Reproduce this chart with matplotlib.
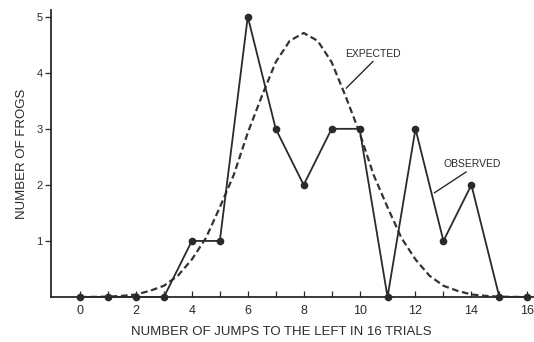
import matplotlib
matplotlib.use("Agg")
import matplotlib.pyplot as plt
from matplotlib.ticker import FixedLocator

# Observed counts per number of left jumps
obs_x = [0, 1, 2, 3, 4, 5, 6, 7, 8, 9, 10, 11, 12, 13, 14, 15, 16]
obs_y = [0, 0, 0, 0, 1, 1, 5, 3, 2, 3, 3, 0, 3, 1, 2, 0, 0]

# Expected curve
exp_x = [0, 0.5, 1, 1.5, 2, 2.5, 3, 3.5, 4, 4.5, 5, 5.5, 6, 6.5, 7, 7.5, 8,
         8.5, 9, 9.5, 10, 10.5, 11, 11.5, 12, 12.5, 13, 13.5, 14, 14.5, 15, 15.5, 16]
exp_y = [0.0, 0.002, 0.006, 0.02, 0.045, 0.11, 0.2, 0.38, 0.67, 1.05, 1.6, 2.18, 2.93, 3.58,
         4.19, 4.57, 4.71, 4.57, 4.19, 3.58, 2.93, 2.18, 1.6, 1.05, 0.67, 0.38, 0.2, 0.11,
         0.045, 0.02, 0.006, 0.002, 0.0]

xtick_labels = ["0", "2", "4", "6", "8", "10", "12", "14", "16"]
ytick_labels = ["1", "2", "3", "4", "5"]

plt.rcParams['font.family'] = ['Liberation Sans', 'DejaVu Sans']
ink = "#2a2a2a"

fig = plt.figure(figsize=(5.34, 3.42), dpi=100)
ax = fig.add_axes([0.0955, 0.1316, 0.9045, 0.8392])

ax.plot(exp_x, exp_y, linestyle=(0, (3.0, 1.6)), color="#333333", lw=1.6, zorder=2)
ax.plot(obs_x, obs_y, color=ink, lw=1.3, marker='o', markersize=4.5, zorder=3,
        clip_on=False)

ax.set_xlim(-1.04, 16.24)
ax.set_ylim(0, 5.12)

for s in ['top', 'right']:
    ax.spines[s].set_visible(False)
for s in ['left', 'bottom']:
    ax.spines[s].set_color(ink)
    ax.spines[s].set_linewidth(1.3)

ax.set_xticks(range(0, 17, 2))
ax.set_xticklabels(xtick_labels)
ax.xaxis.set_minor_locator(FixedLocator(range(1, 16, 2)))
ax.tick_params(axis='x', which='both', direction='in', length=4, width=0.9,
               color=ink, labelsize=9, labelcolor=ink, pad=6)
ax.set_yticks([1, 2, 3, 4, 5])
ax.set_yticklabels(ytick_labels)
ax.tick_params(axis='y', direction='out', length=4, width=0.9, color=ink,
               labelsize=8, labelcolor=ink, pad=2)

ax.set_xlabel("NUMBER OF JUMPS TO THE LEFT IN 16 TRIALS", fontsize=9.5, color=ink)
ax.xaxis.set_label_coords(0.476, -0.1)
ax.set_ylabel("NUMBER OF FROGS", fontsize=9.5, color=ink, labelpad=6)

ax.text(10.48, 4.34, "EXPECTED", fontsize=7.5, color=ink, ha='center', va='center')
ax.plot([9.525, 10.475], [3.727, 4.20], color=ink, lw=1.0)
ax.text(14.04, 2.375, "OBSERVED", fontsize=7.5, color=ink, ha='center', va='center')
ax.plot([12.68, 13.81], [1.86, 2.23], color=ink, lw=1.0)

fig.savefig("out.png", dpi=100)
